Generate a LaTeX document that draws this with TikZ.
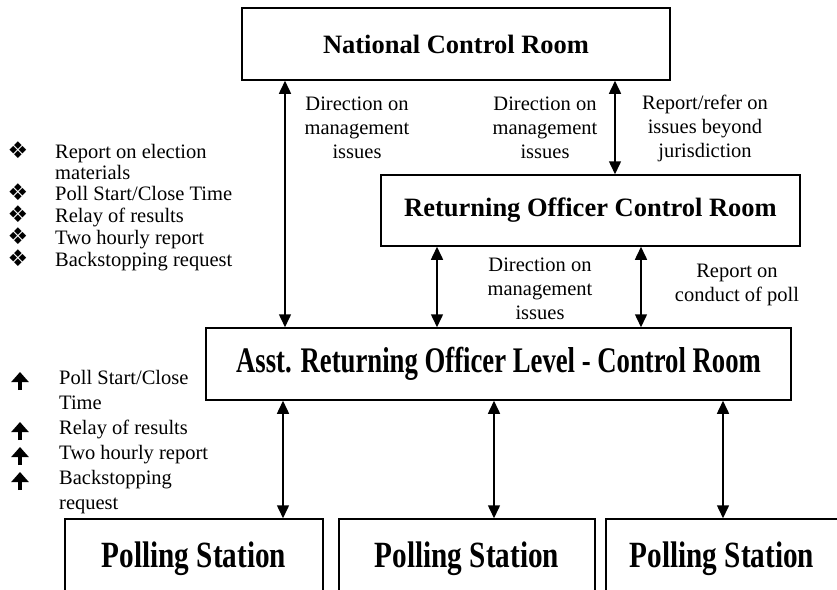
\documentclass[tikz,border=0pt]{standalone}
\usepackage{fontspec}
\setmainfont{Liberation Serif}
\newfontfamily\symfont{DejaVu Sans}
\usetikzlibrary{arrows.meta,positioning}

\tikzset{
  room/.style={draw, line width=1.5pt, inner sep=0pt, font=\fontsize{26.5}{30}\selectfont\bfseries},
  lbl/.style={align=center, inner sep=0pt, font=\fontsize{20.5}{24}\selectfont},
  item/.style={inner sep=0pt, anchor=base west, font=\fontsize{20.5}{24}\selectfont},
  dbl/.style={line width=1.5pt, {Triangle[width=12pt,length=13pt]}-{Triangle[width=12pt,length=13pt]}},
  upbul/.style={line width=4.5pt, -{Triangle[width=17pt,length=10pt]}}
}

\begin{document}
\begin{tikzpicture}[x=1pt,y=-1pt]
\useasboundingbox (0,0) rectangle (837,589);
\clip (0,0) rectangle (837,589);

% Control rooms
\node[room, minimum width=428pt, minimum height=72pt] (ncr) at (456,44) {National Control Room};
\node[room, minimum width=419pt, minimum height=71pt] (roc) at (590.5,210.5) {Returning Officer Control Room};
\node[room, minimum width=585pt, minimum height=72pt] (aro) at (498.5,364)
  {\scalebox{0.742}[1]{\fontsize{36}{40}\selectfont Asst. Returning Officer Level - Control Room}};

% Polling stations
\foreach \x/\w/\n in {194/258/ps1, 467/256/ps2, 722/232/ps3}
  \node[room, minimum width=\w pt, minimum height=80pt] (\n) at (\x,559)
    {\scalebox{0.79}[1]{\fontsize{37}{40}\selectfont Polling Station}};

% Arrow columns
\coordinate (a1) at (285,0);
\coordinate (a2) at (615,0);
\coordinate (a3) at (437,0);
\coordinate (a4) at (641,0);
\coordinate (a5) at (283,0);
\coordinate (a6) at (494,0);
\coordinate (a7) at (723,0);

\draw[dbl] (ncr.south -| a1) -- (aro.north -| a1);
\draw[dbl] (ncr.south -| a2) -- (roc.north -| a2);
\draw[dbl] (roc.south -| a3) -- (aro.north -| a3);
\draw[dbl] (roc.south -| a4) -- (aro.north -| a4);
\draw[dbl] (aro.south -| a5) -- (ps1.north -| a5);
\draw[dbl] (aro.south -| a6) -- (ps2.north -| a6);
\draw[dbl] (aro.south -| a7) -- (ps3.north -| a7);

% Arrow labels
\node[lbl] (l1) at (357,128) {Direction on\\management\\issues};
\node[lbl] (l2) at (545,128) {Direction on\\management\\issues};
\node[lbl] (l3) at (705,128) {Report/refer on\\issues beyond\\jurisdiction};
\node[lbl] (l4) at (540,289) {Direction on\\management\\issues};
\node[lbl] (l5) at (737,285) {Report on\\conduct of poll};

% Upper list
\foreach \y/\txt [count=\i] in {158/{Report on election}, 179.6/{materials}, 200/{Poll Start/Close Time},
    222/{Relay of results}, 244/{Two hourly report}, 266/{Backstopping request}}
  \node[item] (ia\i) at (55,\y) {\txt};
\foreach \y [count=\i] in {158, 200, 222, 244, 266}
  \node[anchor=base, inner sep=0pt, font=\symfont\fontsize{23}{23}\selectfont] (ba\i) at (18,\y) {❖};

% Lower list
\foreach \y/\txt [count=\i] in {384/{Poll Start/Close}, 409/{Time}, 434/{Relay of results},
    459/{Two hourly report}, 484/{Backstopping}, 509/{request}}
  \node[item] (ib\i) at (59,\y) {\txt};
\foreach \y in {384, 434, 459, 484}
  \draw[upbul] (20,\y+6) -- (20,\y-12);
\end{tikzpicture}
\end{document}
